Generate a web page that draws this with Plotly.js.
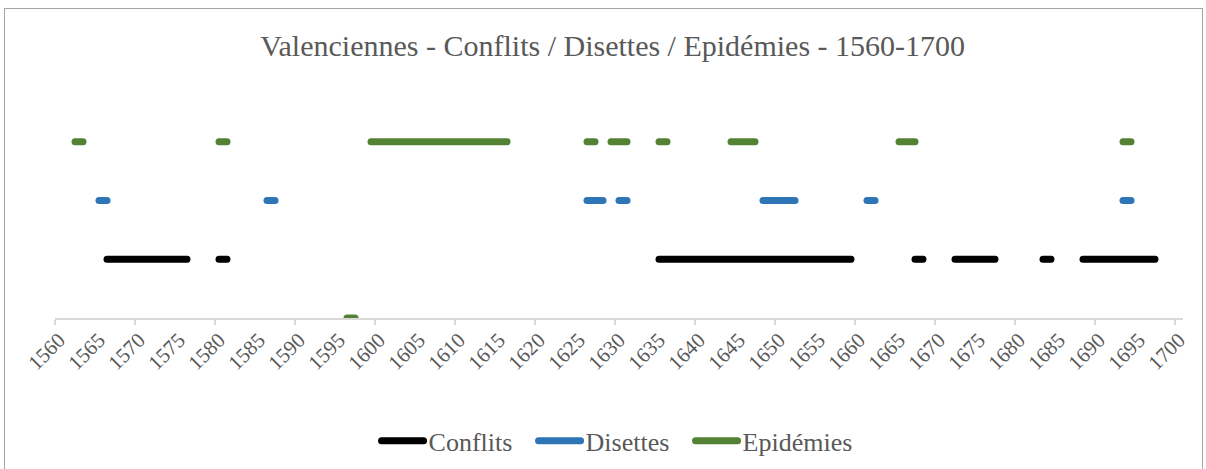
<!DOCTYPE html>
<html>
<head>
<meta charset="utf-8">
<script src="https://cdn.plot.ly/plotly-3.0.1.min.js"></script>
<style>
  html, body { margin:0; padding:0; background:#fff; }
  #wrap { position:relative; width:1206px; height:469px; overflow:hidden; }
  #chart { position:absolute; left:0; top:0; width:1206px; height:469px; }
  #frame { position:absolute; left:4px; top:8px; width:1199px; height:480px; border:1px solid #a6a6a6; pointer-events:none; box-sizing:border-box; }
  path.js-line { stroke-linecap: round; }
  g.legend g.scrollbox { clip-path: none !important; }
  g.legend { overflow: visible; }
</style>
</head>
<body>
<div id="wrap">
  <div id="chart"></div>
  <div id="frame"></div>
</div>
<script>
// Periods (start year, end year)
const conflitsStart = [1566, 1580, 1635, 1667, 1672, 1683, 1688];
const conflitsEnd   = [1576, 1581, 1659, 1668, 1677, 1684, 1697];
const conflitsLevel = [1, 1, 1, 1, 1, 1, 1];

const disettesStart = [1565, 1586, 1626, 1630, 1648, 1661, 1693];
const disettesEnd   = [1566, 1587, 1628, 1631, 1652, 1662, 1694];
const disettesLevel = [2, 2, 2, 2, 2, 2, 2];

const epidemiesStart = [1562, 1580, 1596, 1599, 1626, 1629, 1635, 1644, 1665, 1693];
const epidemiesEnd   = [1563, 1581, 1597, 1616, 1627, 1631, 1636, 1647, 1667, 1694];
const epidemiesLevel = [3, 3, 0, 3, 3, 3, 3, 3, 3, 3];

const seriesNames = ['Conflits', 'Disettes', 'Epidémies'];
const seriesColors = ['#000000', '#2E75B6', '#548235'];
const tickYears = [];
for (let y = 1560; y <= 1700; y += 5) tickYears.push(y);

function buildXY(starts, ends, levels) {
  const x = [], y = [];
  for (let i = 0; i < starts.length; i++) {
    x.push(starts[i], ends[i], null);
    y.push(levels[i], levels[i], null);
  }
  return {x, y};
}

const sets = [
  buildXY(conflitsStart, conflitsEnd, conflitsLevel),
  buildXY(disettesStart, disettesEnd, disettesLevel),
  buildXY(epidemiesStart, epidemiesEnd, epidemiesLevel)
];

const traces = sets.map((s, i) => ({
  type: 'scatter', mode: 'lines',
  x: s.x, y: s.y,
  name: seriesNames[i],
  line: {color: seriesColors[i], width: 7},
  connectgaps: false,
  hoverinfo: 'skip'
}));
traces.push({type:'scatter', mode:'lines', x:[], y:[], xaxis:'x2', yaxis:'y', showlegend:false, hoverinfo:'skip'});

const font = 'Liberation Serif';
const xr = [1559.5, 1700.5];

const layout = {
  width: 1206, height: 469,
  margin: {l: 55, r: 23, t: 83, b: 151},
  paper_bgcolor: 'rgba(0,0,0,0)',
  plot_bgcolor: 'rgba(0,0,0,0)',
  font: {family: font, color: '#595959'},
  showlegend: true,
  title: {
    text: 'Valenciennes - Conflits / Disettes / Epidémies - 1560-1700',
    font: {family: font, size: 30, color: '#595959'},
    x: 0.508, xref: 'container', xanchor: 'center',
    y: 0.904, yref: 'container', yanchor: 'middle'
  },
  xaxis: {
    range: xr, tickmode: 'array', tickvals: tickYears, ticktext: tickYears.map(String),
    tickangle: -45, ticks: '', showgrid: false, zeroline: false,
    showline: true, linecolor: '#D9D9D9', linewidth: 1.5, layer: 'below traces',
    tickfont: {family: font, size: 21, color: '#595959'}
  },
  xaxis2: {
    range: xr, overlaying: 'x', anchor: 'y', side: 'bottom',
    tickmode: 'linear', tick0: 1559.5, dtick: 10,
    ticks: 'outside', ticklen: 5, tickwidth: 1.5, tickcolor: '#D9D9D9',
    showticklabels: false, showgrid: false, zeroline: false,
    showline: true, linecolor: '#D9D9D9', linewidth: 1.5, layer: 'below traces'
  },
  yaxis: {
    range: [0, 4], visible: false, showgrid: false, zeroline: false, fixedrange: true
  },
  legend: {
    orientation: 'h', x: 0.5075, xref: 'container', xanchor: 'center',
    y: 0.06, yref: 'container', yanchor: 'middle',
    font: {family: font, size: 26, color: '#595959'},
    itemwidth: 42, entrywidth: 100, entrywidthmode: 'pixels', tracegroupgap: 0
  }
};

Plotly.newPlot('chart', traces, layout, {staticPlot: true, displayModeBar: false});
</script>
</body>
</html>
